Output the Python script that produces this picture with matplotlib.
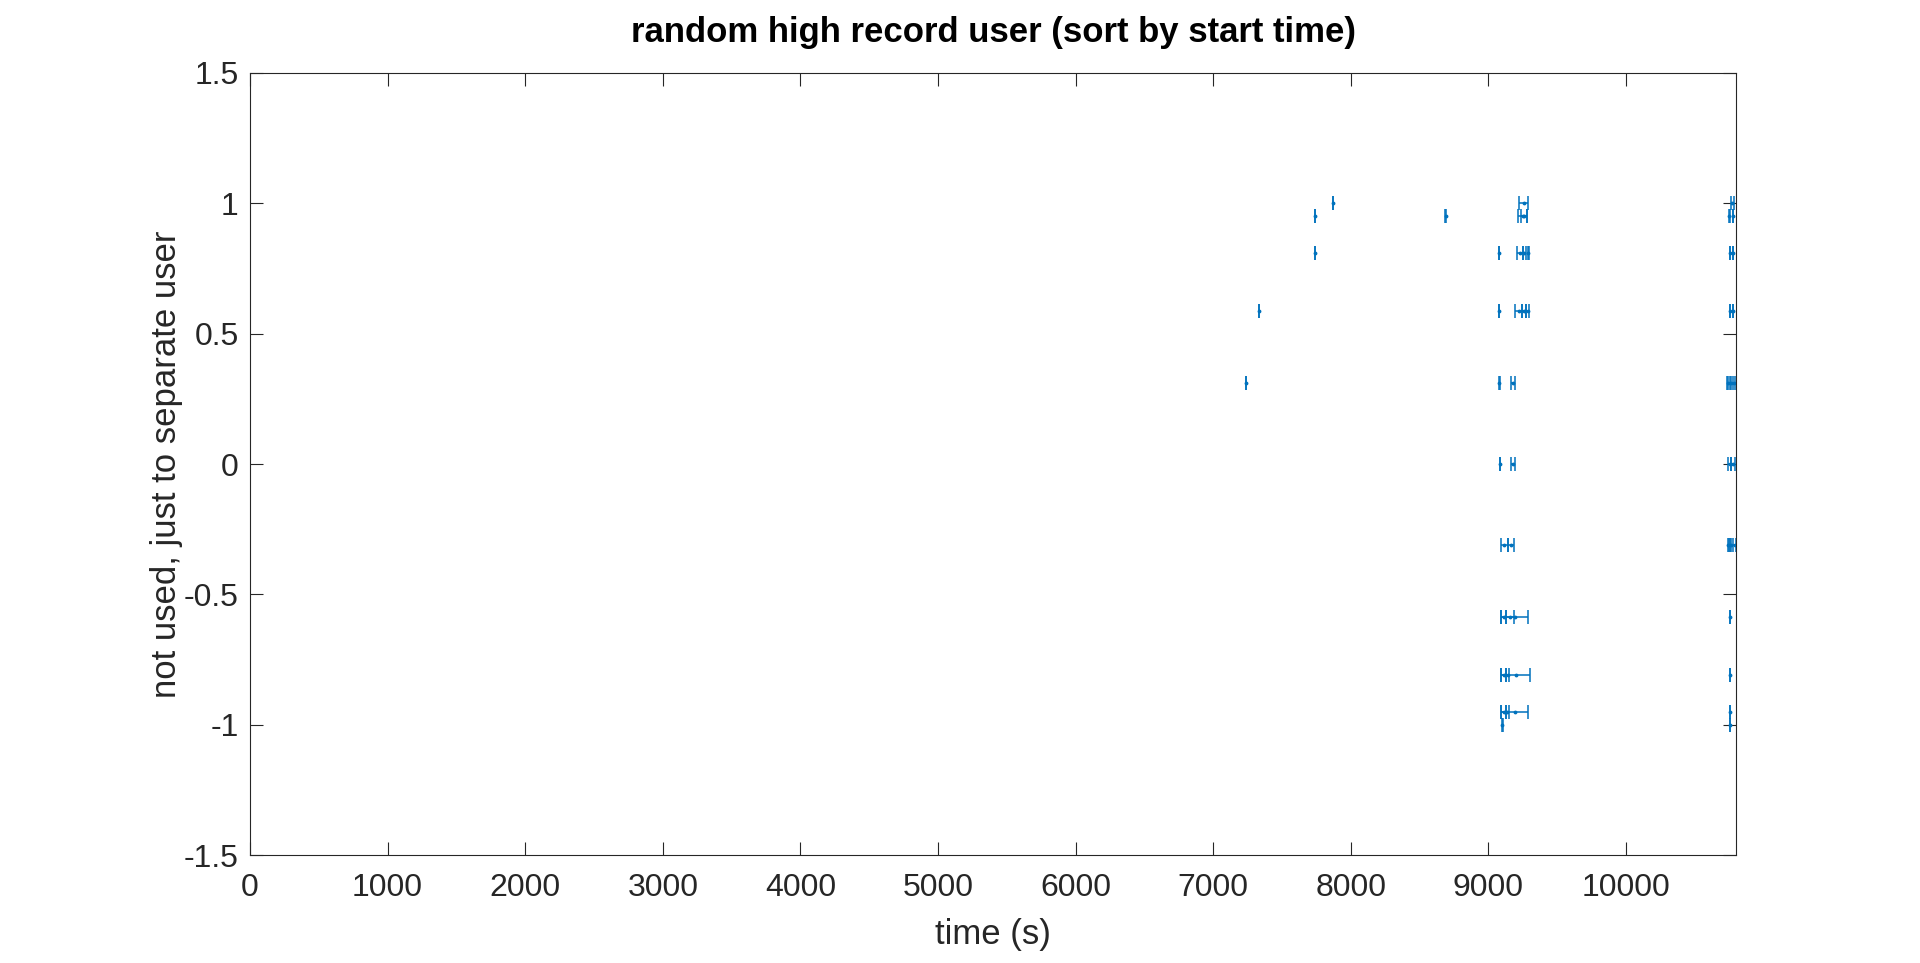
import matplotlib.pyplot as plt
import numpy as np

# one entry per record: user row, centre time (s), half length (s)
user_y = [1.0, 1.0, 1.0,
          0.951, 0.951, 0.951, 0.951, 0.951, 0.951,
          0.809, 0.809, 0.809, 0.809, 0.809, 0.809, 0.809,
          0.588, 0.588, 0.588, 0.588, 0.588, 0.588, 0.588,
          0.309, 0.309, 0.309, 0.309, 0.309, 0.309,
          0.0, 0.0, 0.0, 0.0,
          -0.309, -0.309, -0.309, -0.309, -0.309,
          -0.588, -0.588, -0.588, -0.588,
          -0.809, -0.809, -0.809, -0.809,
          -0.951, -0.951, -0.951, -0.951,
          -1.0, -1.0]
centre_t = [7871, 9256, 10773,
            7740, 8690, 9250, 9262, 10750, 10778,
            7740, 9079, 9228, 9262, 9290, 10756, 10778,
            7335, 9079, 9219, 9257, 9285, 10756, 10778,
            7241, 9079, 9178, 10740, 10760, 10785,
            9086, 9178, 10755, 10775,
            9117, 9163, 10745, 10762, 10790,
            9111, 9157, 9193, 10756,
            9111, 9139, 9198, 10756,
            9111, 9137, 9193, 10756,
            9102, 10756]
half_len = [0, 31, 12,
            0, 4, 32, 22, 3, 3,
            0, 0, 20, 14, 5, 3, 3,
            0, 0, 23, 15, 8, 3, 3,
            0, 4, 16, 4, 4, 4,
            0, 16, 10, 15,
            22, 24, 3, 3, 12,
            16, 30, 98, 2,
            16, 12, 104, 2,
            16, 10, 98, 2,
            3, 2]

y_ticks = [-1.5, -1, -0.5, 0, 0.5, 1, 1.5]
y_tick_labels = ['-1.5', '-1', '-0.5', '0', '0.5', '1', '1.5']
x_ticks = [0, 1000, 2000, 3000, 4000, 5000, 6000, 7000, 8000, 9000, 10000]

plt.rcParams['font.family'] = ['Liberation Sans', 'DejaVu Sans']
plt.rcParams['axes.unicode_minus'] = False

fig = plt.figure(figsize=(19.2, 9.63), dpi=100)
ax = fig.add_axes([0.1302, 0.1121, 0.774, 0.8121])

ax.errorbar(centre_t, user_y, xerr=half_len, fmt='.', color='#0072BD',
            markersize=3.5, elinewidth=1.1, capsize=5, capthick=1.1)

ax.set_xlim(0, 10800)
ax.set_ylim(-1.5, 1.5)
ax.set_xticks(x_ticks)
ax.set_yticks(y_ticks)
ax.set_yticklabels(y_tick_labels)

dark = '#262626'
for s in ax.spines.values():
    s.set_color(dark)
    s.set_linewidth(0.8)
ax.tick_params(direction='in', length=9.5, width=0.8, colors=dark,
               labelsize=23, top=True, right=True)
ax.tick_params(axis='x', pad=13)
ax.tick_params(axis='y', pad=8)

ax.set_title('random high record user (sort by start time)', fontsize=25,
             fontweight='bold', pad=22)
ax.set_xlabel('time (s)', fontsize=25, color=dark, labelpad=11)
ax.set_ylabel('not used, just to separate user', fontsize=25, color=dark, labelpad=1)

fig.savefig('out.png', dpi=100)
